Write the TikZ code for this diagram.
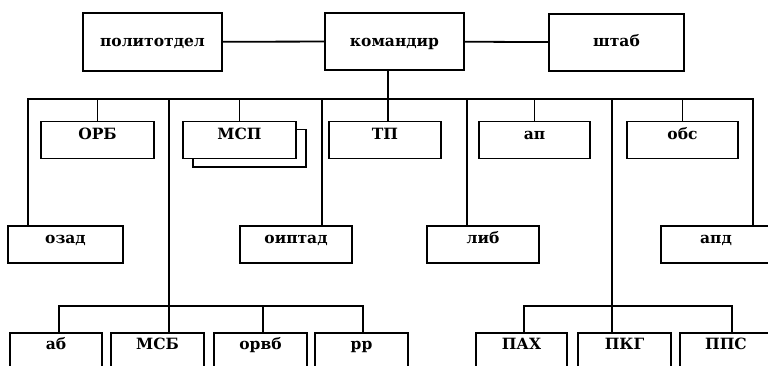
\documentclass[tikz,border=0pt]{standalone}
\usepackage{fontspec}
\setmainfont{DejaVu Serif}
\begin{document}
\begin{tikzpicture}[x=1pt,y=-1pt,
  every node/.style={font=\fontsize{15.5}{18}\selectfont\bfseries},
  box/.style={draw, line width=1.8pt, fill=white, inner xsep=0pt, inner ysep=0pt, anchor=north},
  topbox/.style={box, text height=34pt, text depth=24pt},
  midbox/.style={box, text height=18pt, text depth=19pt},
  lowbox/.style={box, text height=16.5pt, text depth=50pt},
  ln/.style={line width=1.8pt}]
\path[use as bounding box] (0,0) rectangle (768,365);
\clip (0,0) rectangle (768,365);

% top row
\node[topbox, minimum width=139pt] (polit) at (152.5,12) {политотдел};
\node[topbox, minimum width=139pt, text depth=23pt] (kom) at (394.5,12) {командир};
\node[topbox, minimum width=135pt, text height=33pt] (shtab) at (616.5,13) {штаб};

% second row
\node[midbox, minimum width=113pt] (orb) at (97.5,120.5) {ОРБ};
\node[box, minimum width=113pt, minimum height=37.5pt] (msps) at (249.5,128.5) {};
\node[midbox, minimum width=113pt] (msp) at (239.5,120.5) {МСП};
\node[midbox, minimum width=112pt] (tp) at (385,120.5) {ТП};
\node[midbox, minimum width=111pt] (ap) at (534.5,120.5) {ап};
\node[midbox, minimum width=111pt] (obs) at (682.5,120.5) {обс};

% third row
\node[midbox, minimum width=115pt] (ozad) at (65.5,225) {озад};
\node[midbox, minimum width=112pt] (oiptad) at (296,225) {оиптад};
\node[midbox, minimum width=112pt] (lib) at (483,225) {либ};
\node[midbox, minimum width=110pt] (apd) at (716,225) {апд};

% bottom row
\node[lowbox, minimum width=92pt] (ab) at (56,332) {аб};
\node[lowbox, minimum width=93pt] (msb) at (157.5,332) {МСБ};
\node[lowbox, minimum width=93pt] (orvb) at (260.5,332) {орвб};
\node[lowbox, minimum width=93pt] (rr) at (361.5,332) {рр};
\node[lowbox, minimum width=91pt] (pah) at (521.5,332) {ПАХ};
\node[lowbox, minimum width=93pt] (pkg) at (624.5,332) {ПКГ};
\node[lowbox, minimum width=92pt] (pps) at (726,332) {ППС};

% connectors
\draw[ln] (polit) -- (kom);
\draw[ln] (kom) -- (shtab);

\coordinate (bL) at (28,99);
\coordinate (bR) at (753,99);
\coordinate (b2) at (169,99);
\coordinate (b3) at (322,99);
\coordinate (b4) at (467,99);
\coordinate (b5) at (612,99);
\coordinate (lb) at (0,306);

\draw[ln] (bL |- ozad.north) -- (bL) -- (bR) -- (bR |- apd.north);
\draw[ln] ([xshift=-6.5pt]kom.south) -- ([xshift=-6.5pt]kom.south |- tp.north);
\draw[ln] (orb.north) -- (orb.north |- bL);
\draw[ln] (msp.north) -- (msp.north |- bL);
\draw[ln] (ap.north) -- (ap.north |- bL);
\draw[ln] (obs.north) -- (obs.north |- bL);
\draw[ln] (b2) -- (b2 |- msb.north);
\draw[ln] (b3) -- (b3 |- oiptad.north);
\draw[ln] (b4) -- (b4 |- lib.north);
\draw[ln] (b5) -- (b5 |- pkg.north);

\draw[ln] ([xshift=3pt]ab.north) -- ([xshift=3pt]ab.north |- lb) -- ([xshift=1.5pt]rr.north |- lb) -- ([xshift=1.5pt]rr.north);
\draw[ln] ([xshift=2.5pt]orvb.north) -- ([xshift=2.5pt]orvb.north |- lb);
\draw[ln] ([xshift=2.5pt]pah.north) -- ([xshift=2.5pt]pah.north |- lb) -- ([xshift=6pt]pps.north |- lb) -- ([xshift=6pt]pps.north);
\end{tikzpicture}
\end{document}
